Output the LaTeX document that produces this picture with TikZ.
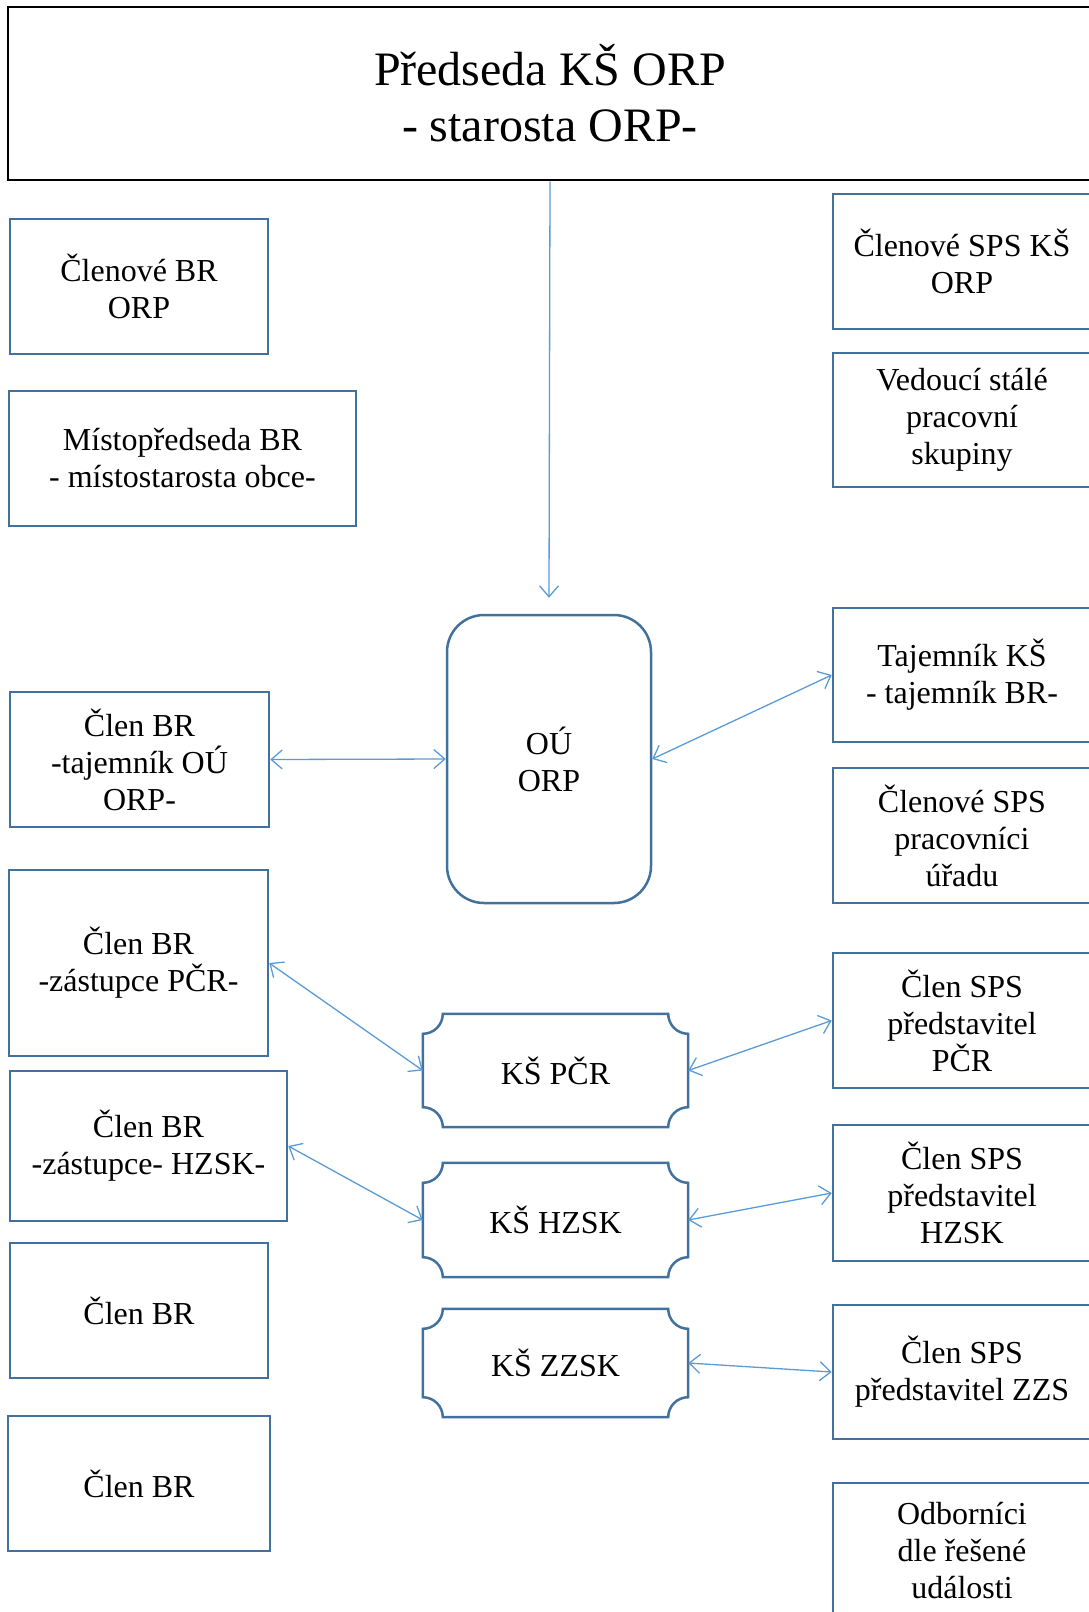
\documentclass[tikz,border=0pt]{standalone}
\usepackage{fontspec}
\setmainfont{Liberation Serif}
\usetikzlibrary{arrows.meta}
\definecolor{boxblue}{RGB}{65,113,156}
\definecolor{arrowblue}{RGB}{91,155,213}
\newcommand\plaqueoutline[1]{%
  \draw[draw=boxblue, line width=2.5pt]
    ([xshift=20pt]#1.north west) -- ([xshift=-20pt]#1.north east)
    arc[start angle=180, end angle=270, radius=20pt]
    -- ([yshift=20pt]#1.south east)
    arc[start angle=90, end angle=180, radius=20pt]
    -- ([xshift=20pt]#1.south west)
    arc[start angle=0, end angle=90, radius=20pt]
    -- ([yshift=-20pt]#1.north west)
    arc[start angle=270, end angle=360, radius=20pt]
    -- cycle;}
\begin{document}
\begin{tikzpicture}[x=1pt,y=-1pt,
  txt/.style={inner sep=0pt, align=center, font=\fontsize{32}{37}\selectfont},
  box/.style={txt, draw=boxblue, line width=2.5pt},
  plaque/.style={txt, minimum width=265pt, minimum height=113pt},
  link/.style={draw=arrowblue, line width=1.3pt,
    {Straight Barb[length=11pt,width=19pt]}-{Straight Barb[length=11pt,width=19pt]}},
  downlink/.style={draw=arrowblue, line width=1.3pt,
    -{Straight Barb[length=11pt,width=19pt]}}]
\useasboundingbox (0,0) rectangle (1088,1612);

% top box
\node[draw=black, line width=2.5pt, minimum width=1084pt, minimum height=173pt,
      inner sep=0pt, align=center, font=\fontsize{48}{56}\selectfont]
      (top) at (550,93.5) {Předseda KŠ ORP\\- starosta ORP-};

% left column
\node[box, minimum width=258pt, minimum height=135pt] (l1) at (139,286.5) {Členové BR\\ORP};
\node[box, minimum width=347pt, minimum height=135pt] (l2) at (182.5,458.5) {Místopředseda BR\\- místostarosta obce-};
\node[box, minimum width=259pt, minimum height=135pt] (l3) at (139.5,759.5) {Člen BR\\-tajemník OÚ\\ORP-};
\node[box, minimum width=259pt, minimum height=186pt] (l4) at (138.5,963) {Člen BR\\-zástupce PČR-};
\node[box, minimum width=277pt, minimum height=150pt] (l5) at (148.5,1146) {Člen BR\\-zástupce- HZSK-};
\node[box, minimum width=258pt, minimum height=135pt] (l6) at (139,1310.5) {Člen BR};
\node[box, minimum width=262pt, minimum height=135pt] (l7) at (139,1483.5) {Člen BR};

% right column
\node[box, minimum width=258pt, minimum height=135pt] (r1) at (962,261.5) {Členové SPS KŠ\\ORP};
\node[box, minimum width=258pt, minimum height=134pt] (r2) at (962,420) {Vedoucí stálé\\pracovní\\skupiny};
\node[box, minimum width=258pt, minimum height=134pt] (r3) at (962,675) {Tajemník KŠ\\- tajemník BR-};
\node[box, minimum width=258pt, minimum height=135pt] (r4) at (962,835.5) {Členové SPS\\pracovníci\\úřadu};
\node[box, minimum width=258pt, minimum height=135pt] (r5) at (962,1020.5) {Člen SPS\\představitel\\PČR};
\node[box, minimum width=258pt, minimum height=136pt] (r6) at (962,1193) {Člen SPS\\představitel\\HZSK};
\node[box, minimum width=258pt, minimum height=134pt] (r7) at (962,1372) {Člen SPS\\představitel ZZS};
\node[box, minimum width=258pt, minimum height=135pt] (r8) at (962,1550.5) {Odborníci\\dle řešené\\události};

% centre
\node[box, rounded corners=37pt, minimum width=204pt, minimum height=288pt] (ou) at (549,759) {OÚ\\ORP};
\node[plaque] (kpcr) at (555.5,1070.5) {KŠ PČR};
\plaqueoutline{kpcr}
\node[plaque, minimum height=114pt] (khzsk) at (555.5,1220) {KŠ HZSK};
\plaqueoutline{khzsk}
\node[plaque, minimum height=108pt] (kzzsk) at (555.5,1363) {KŠ ZZSK};
\plaqueoutline{kzzsk}

% connectors
\draw[downlink] (top.south) -- ([yshift=16pt]ou.north);
\draw[link] (l3.east) -- (ou.west);
\draw[link] (ou.east) -- (r3.west);
\draw[link] (l4.east) -- (kpcr.west);
\draw[link] (kpcr.east) -- (r5.west);
\draw[link] (l5.east) -- (khzsk.west);
\draw[link] (khzsk.east) -- (r6.west);
\draw[link] (kzzsk.east) -- (r7.west);
\end{tikzpicture}
\end{document}
